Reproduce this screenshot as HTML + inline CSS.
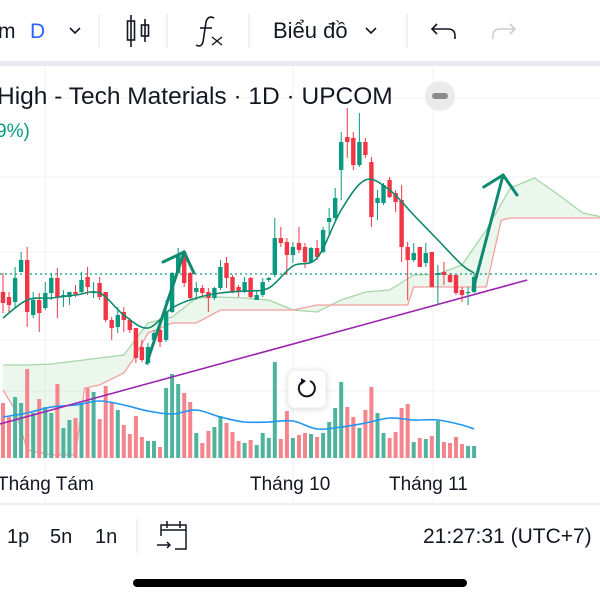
<!DOCTYPE html>
<html><head><meta charset="utf-8">
<style>
html,body{margin:0;padding:0;background:#fff;width:600px;height:600px;overflow:hidden;font-family:"Liberation Sans","DejaVu Sans",sans-serif;}
svg text{font-family:"Liberation Sans","DejaVu Sans",sans-serif;}
</style></head>
<body>
<svg id="chart" width="600" height="600" viewBox="0 0 600 600" xmlns="http://www.w3.org/2000/svg">
  <rect x="0" y="0" width="600" height="600" fill="#fff"/>
  <g>
    <text x="-2" y="38" font-size="21" fill="#131722">m</text>
    <text x="30" y="38" font-size="21" fill="#2962ff">D</text>
    <path d="M70 28 L75 33 L80 28" stroke="#131722" stroke-width="1.6" fill="none"/>
    <line x1="99" y1="14" x2="99" y2="48" stroke="#e0e3eb"/>
    <g stroke="#131722" stroke-width="1.6" fill="none">
      <line x1="131" y1="15" x2="131" y2="47"/><rect x="127.5" y="21" width="7" height="19"/>
      <line x1="145" y1="19" x2="145" y2="42"/><rect x="141.5" y="25" width="7" height="11"/>
    </g>
    <line x1="167" y1="14" x2="167" y2="48" stroke="#e0e3eb"/>
    <g stroke="#131722" stroke-width="1.6" fill="none">
      <path d="M214 18 Q208 15 206 22 L203 42 Q201 48 196 45"/>
      <line x1="200" y1="28" x2="212" y2="28"/>
      <path d="M212 37 L222 45 M222 37 L212 45" stroke-width="1.4"/>
    </g>
    <line x1="249" y1="14" x2="249" y2="48" stroke="#e0e3eb"/>
    <text x="273" y="38" font-size="22" fill="#131722">Biểu đồ</text>
    <path d="M366 28 L371 33 L376 28" stroke="#131722" stroke-width="1.6" fill="none"/>
    <line x1="407" y1="14" x2="407" y2="48" stroke="#e0e3eb"/>
    <path d="M437 24 L432 29 L437 34 M432 29 L448 29 Q455 29 455 36 L455 39" stroke="#131722" stroke-width="1.6" fill="none"/>
    <path d="M510 24 L515 29 L510 34 M515 29 L500 29 Q493 29 493 36 L493 39" stroke="#c8cbd3" stroke-width="1.6" fill="none"/>
  </g>
  <rect x="0" y="61" width="600" height="5" fill="#e9e9f2"/>

  <g id="grid"></g>
  <g id="plot"></g>

  <g>
    <text x="-3" y="104" font-size="24.5" fill="#131722">High - Tech Materials · 1D · UPCOM</text>
    <text x="-4" y="137" font-size="19" fill="#089981">9%)</text>
    <circle cx="440" cy="96" r="15" fill="#ebebeb"/>
    <rect x="432" y="93" width="16" height="6" rx="3" fill="#8a8a8a"/>
  </g>

  <g>
    <rect x="288" y="370" width="38" height="38" rx="7" fill="#fff" stroke="#eceef2" style="filter:drop-shadow(0 1px 3px rgba(0,0,0,0.15))"/>
    <path d="M302 382 A8 8 0 1 0 310 381" stroke="#131722" stroke-width="2" fill="none"/>
    <path d="M301 378 L306 381 L301 385 Z" fill="#131722"/>
  </g>

  <g>
    <text x="-3" y="490" font-size="19" fill="#131722">Tháng Tám</text>
    <text x="250" y="490" font-size="19" fill="#131722">Tháng 10</text>
    <text x="389" y="490" font-size="19" fill="#131722">Tháng 11</text>
  </g>
  <line x1="0" y1="504" x2="600" y2="504" stroke="#e0e3eb" stroke-width="1.2"/>

  <g>
    <text x="7" y="543" font-size="20" fill="#131722">1p</text>
    <text x="50" y="543" font-size="20" fill="#131722">5n</text>
    <text x="95" y="543" font-size="20" fill="#131722">1n</text>
    <line x1="137" y1="519" x2="137" y2="553" stroke="#e0e3eb"/>
    <g stroke="#131722" stroke-width="1.5" fill="none">
      <path d="M161 536 L161 525 L186 525 L186 549 L175 549"/>
      <line x1="161" y1="530" x2="186" y2="530"/>
      <line x1="167" y1="521" x2="167" y2="528"/><line x1="180" y1="521" x2="180" y2="528"/>
      <path d="M157 545 L170 545 M167 542 L170 545 L167 548"/>
    </g>
    <text x="423" y="543" font-size="21" fill="#131722">21:27:31 (UTC+7)</text>
  </g>
  <rect x="133" y="579" width="334" height="8" rx="4" fill="#000"/>
</svg>
<script>
const openP  = [208,203,198,228,240,185,200,192,207,222,203,203,208,208,223,207,217,208,180,173,188,180,172,153,137,160,170,160,188,227,248,227,208,212,208,202,212,237,223,213,208,222,200,205,220,225,262,258,245,257,253,238,252,248,278,282,330,363,362,335,358,338,297,297,320,307,300,253,240,253,237,248,225,228,225,225,210,207,208];
const highP  = [227,208,233,248,253,208,207,218,227,232,210,208,215,228,233,218,223,208,183,193,193,182,172,160,157,170,173,200,228,252,250,228,218,215,212,213,240,243,225,215,223,223,210,222,223,282,273,262,258,273,257,253,260,273,292,312,368,392,368,387,362,343,310,317,323,310,315,258,257,253,257,248,235,238,227,225,213,213,227];
const lowP   = [187,187,192,228,173,182,168,190,200,182,193,195,203,207,205,202,200,178,160,167,168,167,137,138,135,155,153,158,187,227,213,200,200,203,188,200,210,212,207,203,207,202,200,203,218,223,253,225,237,247,232,237,240,247,265,280,300,342,330,333,342,273,280,295,302,288,238,200,238,233,233,213,195,215,217,205,198,195,207];
const closeP = [197,195,222,240,188,200,187,207,222,203,205,208,206,220,213,208,203,180,172,185,180,170,142,140,153,167,158,188,227,245,217,202,212,207,202,212,233,222,208,208,218,203,205,218,222,262,257,245,253,250,238,252,243,270,282,302,358,358,335,358,345,283,302,315,303,298,253,240,247,233,247,213,227,225,218,207,205,208,223];
const volume = [55,41,61,55,89,45,59,51,45,74,30,38,40,55,70,66,39,72,55,48,33,24,42,21,17,17,11,70,84,74,65,56,25,15,27,31,42,35,26,17,15,18,13,25,20,96,19,47,20,23,25,24,21,25,36,50,76,51,41,30,48,71,45,25,20,26,50,54,16,20,19,22,37,16,15,21,14,12,12];
const maIdx   = [0,4,8,12,16,20,24,28,32,36,40,44,48,52,56,60,64,68,72,76,78];
const smaVal  = [182,200,202,205,207,185,172,192,202,207,209,212,234,242,290,320,310,285,260,235,227];
const volMaVal= [41,45,51,53,57,53,47,44,48,41,36,36,37,29,31,35,40,38,38,33,29];
const cloudIdx = [0,4,8,12,16,20,24,28,32,36,40,44,48,52,56,60,64,68,72,76,80,84,88,92,96,100];
const spanA    = [135,135,136,139,142,145,177,183,202,203,202,200,190,188,200,208,210,225,226,235,270,312,322,305,287,282];
const spanBIdx = [0,2,4,8,12,13.5,16,20,21.5,24,28,32,36,40,44,48,52,56,60,64,67,68,72,76,80,82.5,84,88,92,96,100];
const spanB    = [110,90,50,45,45,112,115,127,140,167,177,177,190,190,190,190,195,195,195,195,195,213,213,213,213,280,282,282,282,282,282];
const trendLine = [[-0.5,76],[86.8,220]];
const arrow1 = [[23.8,137],[30,248]];
const arrow1Heads = [[26.5,238],[31.6,227]];
const arrow2 = [[77.8,210],[82.8,325]];
const arrow2Heads = [[79.6,313],[85.1,305]];

const X0 = 3, STEP = 6.04;
const xS = i => X0 + i*STEP;
const yP = p => 500 - p;
const yV = v => 458 - v;

const NS = 'http://www.w3.org/2000/svg';
const plot = document.getElementById('plot');
const grid = document.getElementById('grid');
function mk(tag, attrs, parent){
  const e = document.createElementNS(NS, tag);
  for (const k in attrs) e.setAttribute(k, attrs[k]);
  parent.appendChild(e);
  return e;
}
[98,177,252,340,391].forEach(y=>{
  const l = mk('line',{x1:0,x2:600,y1:y,y2:y,stroke:'#f0f1f4','stroke-width':1},grid);
  
  
});
[45,293,433].forEach(x=>{
  const l = mk('line',{x1:x,x2:x,y1:67,y2:503,stroke:'#f0f1f4','stroke-width':1},grid);
  
  
});

const pts = (idx, vals, yf) => idx.map((i,k)=>xS(i).toFixed(1)+','+yf(vals[k]).toFixed(1)).join(' ');
function smoothPath(idx, vals, yf){
  const p = idx.map((i,k)=>[xS(i), yf(vals[k])]);
  let d = 'M'+p[0][0].toFixed(1)+' '+p[0][1].toFixed(1);
  for (let k=0;k<p.length-1;k++){
    const p0=p[Math.max(0,k-1)], p1=p[k], p2=p[k+1], p3=p[Math.min(p.length-1,k+2)];
    const c1=[p1[0]+(p2[0]-p0[0])/6, p1[1]+(p2[1]-p0[1])/6];
    const c2=[p2[0]-(p3[0]-p1[0])/6, p2[1]-(p3[1]-p1[1])/6];
    d += ' C'+c1.map(v=>v.toFixed(1)).join(' ')+' '+c2.map(v=>v.toFixed(1)).join(' ')+' '+p2[0].toFixed(1)+' '+p2[1].toFixed(1);
  }
  return d;
}

const fillPts = pts(cloudIdx, spanA, yP) + ' ' + spanBIdx.map((i,k)=>[i,spanB[k]]).reverse().map(d=>xS(d[0]).toFixed(1)+','+yP(d[1]).toFixed(1)).join(' ');
const cf = mk('polygon',{points:fillPts,fill:'rgba(165,214,167,0.22)',stroke:'none'},plot);


const la = mk('polyline',{points:pts(cloudIdx,spanA,yP),fill:'none',stroke:'#a5d6a7','stroke-width':1.3},plot);


const lb = mk('polyline',{points:pts(spanBIdx,spanB,yP),fill:'none',stroke:'#f4a0a0','stroke-width':1.3},plot);



volume.forEach((v,i)=>{
  const up = closeP[i] >= openP[i];
  const r = mk('rect',{x:(xS(i)-2).toFixed(1),y:yV(v),width:4,height:v,fill: up ? '#4fb39e' : '#f5848c'},plot);
  
  
});
const vm = mk('path',{d:smoothPath(maIdx,volMaVal,yV),fill:'none',stroke:'#2196f3','stroke-width':1.6},plot);



const tl = mk('line',{x1:xS(trendLine[0][0]),y1:yP(trendLine[0][1]),x2:xS(trendLine[1][0]),y2:yP(trendLine[1][1]),stroke:'#9c27b0','stroke-width':1.6},plot);



const lastP = closeP[closeP.length-1] + 3;
const dl = mk('line',{x1:0,x2:600,y1:yP(lastP),y2:yP(lastP),stroke:'#089981','stroke-width':1.2,'stroke-dasharray':'2 3'},plot);



openP.forEach((o,i)=>{
  const c = closeP[i], up = c >= o, col = up ? '#089981' : '#f23645', x = xS(i);
  const w = mk('line',{x1:x,x2:x,y1:yP(highP[i]),y2:yP(lowP[i]),stroke:col,'stroke-width':1},plot);
  
  
  const top = yP(Math.max(o,c)), h = Math.max(1.2, Math.abs(o-c));
  const b = mk('rect',{x:(x-2.2).toFixed(1),y:top,width:4.4,height:h,fill:col},plot);
  
  
});

const sm = mk('path',{d:smoothPath(maIdx,smaVal,yP),fill:'none',stroke:'#0b8a6c','stroke-width':1.6},plot);



function arrow(a, heads, name){
  const g = mk('g',{stroke:'#0e8a70','stroke-width':3,'stroke-linecap':'round',fill:'none'},plot);
  
  
  const tip = a[1];
  mk('line',{x1:xS(a[0][0]),y1:yP(a[0][1]),x2:xS(tip[0]),y2:yP(tip[1])},g);
  heads.forEach(h=>mk('line',{x1:xS(h[0]),y1:yP(h[1]),x2:xS(tip[0]),y2:yP(tip[1])},g));
}
arrow(arrow1, arrow1Heads, 'arrow-drawing-1');
arrow(arrow2, arrow2Heads, 'arrow-drawing-2');
</script>
</body></html>
